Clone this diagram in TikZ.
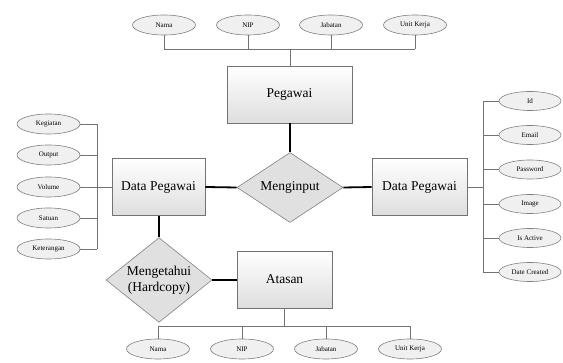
\documentclass[tikz,border=0pt]{standalone}
\usepackage{fontspec}
\setmainfont{Liberation Serif}
\usetikzlibrary{shapes.geometric}

\tikzset{every picture/.style={line width=0.75pt}}
\tikzset{
  entity/.style={draw=black!55, line width=0.6pt, top color=white, bottom color=black!13,
    minimum height=57pt, inner sep=0pt, font=\fontsize{13.5}{15}\selectfont},
  attr/.style={ellipse, draw=black!50, line width=0.6pt, fill=black!6, minimum width=63pt,
    minimum height=20pt, inner sep=0pt, font=\fontsize{7}{8}\selectfont},
  relation/.style={diamond, draw=black!50, line width=0.6pt, fill=black!12, minimum width=106pt,
    minimum height=70pt, inner sep=-2pt, align=center, font=\fontsize{13.5}{16}\selectfont},
  thin link/.style={draw=black!55, line width=0.8pt},
  thick link/.style={draw=black, line width=1.8pt},
}

\begin{document}
\begin{tikzpicture}[x=1pt,y=1pt,yscale=-1,xscale=1]
\useasboundingbox (0,0) rectangle (563,363);

% Entities
\node [entity, minimum width=125pt] (peg) at (289.5,94.5) {Pegawai};
\node [entity, minimum width=93pt] (dpl) at (158.5,187) {Data Pegawai};
\node [entity, minimum width=95pt] (dpr) at (419.5,187) {Data Pegawai};
\node [entity, minimum width=95pt] (ats) at (284.5,279.5) {Atasan};

% Relations
\node [relation] (inp) at (290,187.5) {Menginput};
\node [relation] (tahu) at (159,280) {Mengetahui\\(Hardcopy)};

% Attributes of Pegawai
\node [attr] (pnama) at (164,25) {Nama};
\node [attr] (pnip) at (248,25) {NIP};
\node [attr] (pjab) at (331,25) {Jabatan};
\node [attr] (punit) at (415,25) {Unit Kerja};
\coordinate (pbus) at (290,49);

% Attributes of Data Pegawai (left)
\node [attr] (keg) at (48.5,124) {Kegiatan};
\node [attr] (outp) at (48.5,155) {Output};
\node [attr] (vol) at (48.5,187) {Volume};
\node [attr] (sat) at (48.5,218) {Satuan};
\node [attr] (ket) at (48.5,249) {Keterangan};
\coordinate (lbus) at (97,187);

% Attributes of Data Pegawai (right)
\node [attr, minimum width=62pt, minimum height=19pt] (rid) at (530,101) {Id};
\node [attr, minimum width=62pt, minimum height=19pt] (rmail) at (530,135) {Email};
\node [attr, minimum width=62pt, minimum height=19pt] (rpass) at (530,169.5) {Password};
\node [attr, minimum width=62pt, minimum height=19pt] (rimg) at (530,204) {Image};
\node [attr, minimum width=62pt, minimum height=19pt] (ract) at (530,238) {Is Active};
\node [attr, minimum width=62pt, minimum height=19pt] (rdate) at (530,272) {Date Created};
\coordinate (rbus) at (483,187);

% Attributes of Atasan
\node [attr] (anama) at (158,349) {Nama};
\node [attr] (anip) at (242,349) {NIP};
\node [attr] (ajab) at (326,349) {Jabatan};
\node [attr] (aunit) at (410,349) {Unit Kerja};
\coordinate (abus) at (284,326);

%Straight Lines (top)
\foreach \n in {pnama,pnip,pjab,punit}
  \draw [thin link] (\n.south) -- (\n.south |- pbus);
\draw [thin link] (pnama.south |- pbus) -- (punit.south |- pbus);
\draw [thin link] (pbus) -- (peg.north -| pbus);

%Straight Lines (left)
\foreach \n in {keg,outp,sat,ket}
  \draw [thin link] (\n.east) -- (\n.east -| lbus);
\draw [thin link] (keg.east -| lbus) -- (ket.east -| lbus);
\draw [thin link] (vol.east) -- (dpl.west);

%Straight Lines (right)
\foreach \n in {rid,rmail,rpass,rimg,ract,rdate}
  \draw [thin link] (\n.west) -- (\n.west -| rbus);
\draw [thin link] (rid.west -| rbus) -- (rdate.west -| rbus);
\draw [thin link] (dpr.east) -- (rbus);

%Straight Lines (bottom)
\foreach \n in {anama,anip,ajab,aunit}
  \draw [thin link] (\n.north) -- (\n.north |- abus);
\draw [thin link] (anama.north |- abus) -- (aunit.north |- abus);
\draw [thin link] (ats.south -| abus) -- (abus);

%Relationship lines
\draw [thick link] (peg.south -| inp.north) -- (inp.north);
\draw [thick link] (dpl.east) -- (inp.west);
\draw [thick link] (inp.east) -- (dpr.west);
\draw [thick link] (dpl.south -| tahu.north) -- (tahu.north);
\draw [thick link] (tahu.east) -- (ats.west |- tahu.east);

\end{tikzpicture}
\end{document}
